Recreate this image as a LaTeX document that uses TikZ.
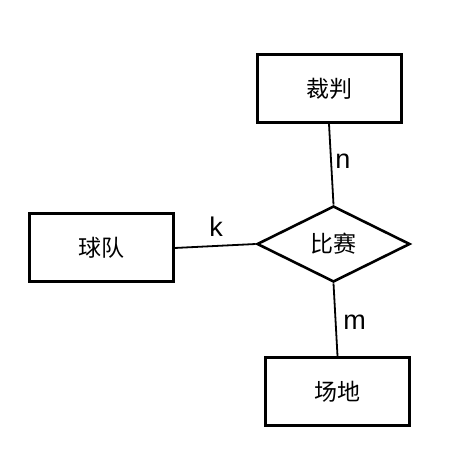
\documentclass[tikz,border=0pt]{standalone}
\usepackage{fontspec}
\setmainfont{Liberation Sans}
\newfontfamily\cjk{Noto Sans CJK SC}
\usetikzlibrary{shapes.geometric}
\begin{document}
\begin{tikzpicture}[x=1pt,y=-1pt,
  entity/.style={draw, line width=3pt, minimum width=144pt, minimum height=68pt, inner sep=0pt, font=\cjk\fontsize{23}{25}\selectfont},
  rel/.style={draw, diamond, line width=2.6pt, minimum width=153pt, minimum height=76pt, aspect=2, inner sep=0pt, font=\cjk\fontsize{23}{25}\selectfont},
  conn/.style={line width=1.8pt},
  card/.style={anchor=base, inner sep=0pt, font=\fontsize{27}{30}\selectfont}]
\useasboundingbox[fill=white] (0,0) rectangle (450,449);
\node[entity] (cp) at (329,88.5) {裁判};
\node[entity] (qd) at (101,248) {球队};
\node[entity] (cd) at (337.5,391.5) {场地};
\node[rel] (bs) at (333.5,244) {比赛};
\draw[conn] (cp.south) -- (bs.north);
\draw[conn] (qd.east) -- (bs.west);
\draw[conn] (bs.south) -- (cd.north);
\node[card] (ln) at (343,169) {n};
\node[card] (lk) at (216,237) {k};
\node[card] (lm) at (354.5,330) {m};
\end{tikzpicture}
\end{document}
